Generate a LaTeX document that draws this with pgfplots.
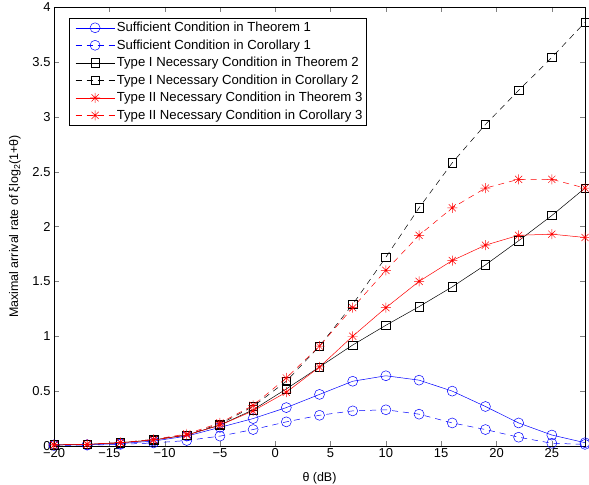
\documentclass[border=0pt]{standalone}
\usepackage{fontspec}
\setmainfont{Liberation Sans}
\usepackage{pgfplots}
\pgfplotsset{compat=1.18}

% MATLAB-style '*' marker: a plus and a cross together
\pgfdeclareplotmark{mstar}{%
  \pgfpathmoveto{\pgfqpoint{-\pgfplotmarksize}{0pt}}\pgfpathlineto{\pgfqpoint{\pgfplotmarksize}{0pt}}%
  \pgfpathmoveto{\pgfqpoint{0pt}{-\pgfplotmarksize}}\pgfpathlineto{\pgfqpoint{0pt}{\pgfplotmarksize}}%
  \pgfpathmoveto{\pgfqpoint{-0.707\pgfplotmarksize}{-0.707\pgfplotmarksize}}\pgfpathlineto{\pgfqpoint{0.707\pgfplotmarksize}{0.707\pgfplotmarksize}}%
  \pgfpathmoveto{\pgfqpoint{-0.707\pgfplotmarksize}{0.707\pgfplotmarksize}}\pgfpathlineto{\pgfqpoint{0.707\pgfplotmarksize}{-0.707\pgfplotmarksize}}%
  \pgfusepathqstroke}

\begin{document}
\begin{tikzpicture}
\begin{axis}[
  at={(0,0)}, anchor=south west,
  width=531bp, height=439bp, scale only axis,
  xmin=-20, xmax=28, ymin=0, ymax=4,
  xtick={-20,-15,...,25},
  xticklabels={−20,−15,−10,−5,0,5,10,15,20,25},
  ytick={0,0.5,...,4},
  yticklabels={0,0.5,1,1.5,2,2.5,3,3.5,4},
  tick align=inside, tick pos=both,
  major tick length=5bp,
  tick label style={font=\fontsize{13}{15}\selectfont},
  xticklabel style={yshift=1bp},
  axis line style={line width=0.6pt},
  xlabel={θ (dB)},
  ylabel={Maximal arrival rate of ξlog\textsubscript{2}(1+θ)},
  label style={font=\fontsize{12.5}{14}\selectfont},
  xlabel style={at={(axis description cs:0.5,-0.073)}, anchor=center},
  ylabel style={at={(axis description cs:-0.0734,0.5)}, anchor=center},
  legend style={at={(axis cs:-18.64,3.90)}, anchor=north west,
    font=\fontsize{13.2}{15}\selectfont, draw=black, line width=0.6pt,
    row sep=2.5bp, inner sep=2bp, cells={anchor=west}},
  legend image code/.code={%
    \path (0bp,0bp);
    \draw[mark repeat=2,mark phase=2] plot coordinates {(4bp,0bp) (23.5bp,0bp) (43bp,0bp)};},
  every axis plot/.append style={line width=0.5pt, mark options={solid}},
]
\addplot[blue, mark=o, mark size=5bp] coordinates {
  (-20,0.01) (-17,0.012) (-14,0.022) (-11,0.045) (-8,0.09) (-5,0.17) (-2,0.25) (1,0.35)
  (4,0.47) (7,0.59) (10,0.64) (13,0.60) (16,0.50) (19,0.36) (22,0.21) (25,0.10) (28,0.03)};
\addlegendentry{Sufficient Condition in Theorem 1}
\addplot[blue, dash pattern=on 6bp off 5bp, mark=o, mark size=5bp] coordinates {
  (-20,0.005) (-17,0.008) (-14,0.015) (-11,0.028) (-8,0.05) (-5,0.09) (-2,0.15) (1,0.22)
  (4,0.28) (7,0.32) (10,0.33) (13,0.29) (16,0.21) (19,0.15) (22,0.08) (25,0.025) (28,0.015)};
\addlegendentry{Sufficient Condition in Corollary 1}
\addplot[black, mark=square, mark size=4.2bp] coordinates {
  (-20,0.01) (-17,0.015) (-14,0.03) (-11,0.055) (-8,0.10) (-5,0.19) (-2,0.33) (1,0.52)
  (4,0.72) (7,0.92) (10,1.10) (13,1.27) (16,1.45) (19,1.65) (22,1.87) (25,2.10) (28,2.35)};
\addlegendentry{Type I Necessary Condition in Theorem 2}
\addplot[black, dash pattern=on 6bp off 5bp, mark=square, mark size=4.2bp] coordinates {
  (-20,0.01) (-17,0.015) (-14,0.03) (-11,0.06) (-8,0.10) (-5,0.20) (-2,0.36) (1,0.59)
  (4,0.91) (7,1.29) (10,1.72) (13,2.17) (16,2.58) (19,2.93) (22,3.24) (25,3.54) (28,3.86)};
\addlegendentry{Type I Necessary Condition in Corollary 2}
\addplot[red, mark=mstar, mark size=5bp] coordinates {
  (-20,0.01) (-17,0.015) (-14,0.03) (-11,0.055) (-8,0.10) (-5,0.19) (-2,0.32) (1,0.49)
  (4,0.72) (7,1.00) (10,1.26) (13,1.50) (16,1.69) (19,1.83) (22,1.92) (25,1.93) (28,1.90)};
\addlegendentry{Type II Necessary Condition in Theorem 3}
\addplot[red, dash pattern=on 6bp off 5bp, mark=mstar, mark size=5bp] coordinates {
  (-20,0.01) (-17,0.015) (-14,0.03) (-11,0.06) (-8,0.11) (-5,0.21) (-2,0.37) (1,0.62)
  (4,0.91) (7,1.26) (10,1.60) (13,1.92) (16,2.17) (19,2.35) (22,2.43) (25,2.43) (28,2.35)};
\addlegendentry{Type II Necessary Condition in Corollary 3}
\end{axis}
\pgfresetboundingbox
\path[use as bounding box] (-54bp,-39bp) rectangle (535bp,446bp);
\end{tikzpicture}
\end{document}
